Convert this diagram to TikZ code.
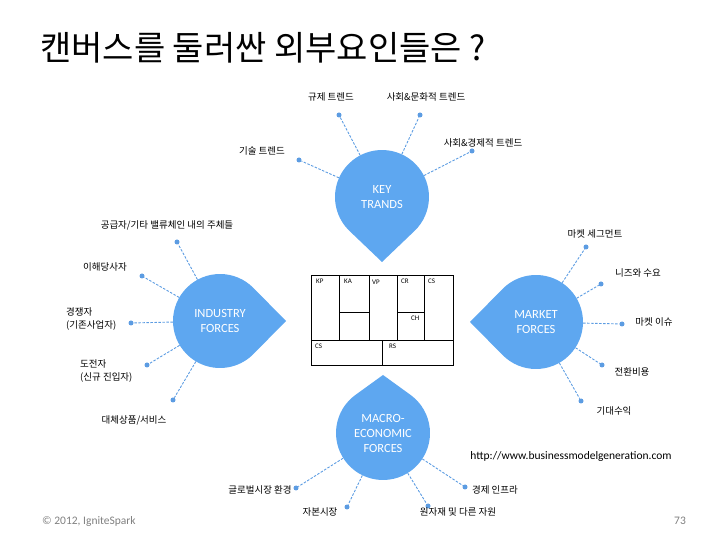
\documentclass[tikz,border=0pt]{standalone}
\usepackage{fontspec}
\setmainfont{Carlito}
\newfontfamily\kofont{Noto Sans CJK KR}
\usetikzlibrary{calc}
\definecolor{dropblue}{RGB}{94,167,240}
\definecolor{spokeblue}{RGB}{92,156,226}
\definecolor{footgray}{RGB}{128,128,128}

% teardrop: centre, radius, tip angle, tip distance
\newcommand{\teardrop}[4]{%
  \pgfmathsetmacro\dropa{acos(#2/#4)}%
  \fill[dropblue] (#1) ++(#3:#4) -- ($(#1)+(#3+\dropa:#2)$) arc[start angle=#3+\dropa, end angle=#3+360-\dropa, radius=#2] -- cycle;%
}

\begin{document}
\begin{tikzpicture}[x=1pt, y=1pt,
  drop/.style={circle, minimum size=94pt, inner sep=0pt, text=white, align=center, font=\fontsize{12.5}{15}\selectfont},
  dot/.style={circle, fill=spokeblue, inner sep=0pt, minimum size=5pt},
  spoke/.style={spokeblue, dash pattern=on 2.5pt off 1.5pt, line width=0.9pt},
  lbl/.style={font=\kofont\fontsize{9.5}{13.5}\selectfont, inner sep=0pt},
  cell/.style={font=\fontsize{7}{8}\selectfont, inner sep=0pt, anchor=north west},
  foot/.style={font=\fontsize{11.5}{13}\selectfont, text=footgray, inner sep=0pt}]
\useasboundingbox (0,0) rectangle (728,546);

\node[anchor=west, inner sep=0pt, font=\kofont\fontsize{34}{34}\selectfont] (title) at (40,498) {캔버스를 둘러싼 외부요인들은 ?};

% the four drops
\coordinate (kc) at (382,349);
\coordinate (ic) at (220,225);
\coordinate (mc) at (536,224);
\coordinate (ec) at (383,113);
\teardrop{kc}{47}{270}{65}
\teardrop{ic}{47}{0}{66}
\teardrop{mc}{47}{180}{66}
\teardrop{ec}{47}{90}{58}
\node[drop] (key) at (kc) {KEY\\TRANDS};
\node[drop] (industry) at (ic) {INDUSTRY\\FORCES};
\node[drop] (market) at (mc) {MARKET\\FORCES};
\node[drop] (macro) at (ec) {MACRO-\\ECONOMIC\\FORCES};

% key trends
\node[dot] (k1) at (299,386) {};
\node[dot] (k2) at (339,431) {};
\node[dot] (k3) at (420,431) {};
\node[dot] (k4) at (472,395) {};
\node[lbl] (k1t) at (262,395) {기술 트렌드};
\node[lbl] (k2t) at (331,449) {규제 트렌드};
\node[lbl] (k3t) at (426,449) {사회\&문화적 트렌드};
\node[lbl] (k4t) at (483,403) {사회\&경제적 트렌드};
\draw[spoke] (key) -- (k1);
\draw[spoke] (key) -- (k2);
\draw[spoke] (key) -- (k3);
\draw[spoke] (key) -- (k4);

% industry forces
\node[dot] (i1) at (177,304) {};
\node[dot] (i2) at (142,270) {};
\node[dot] (i3) at (131,223) {};
\node[dot] (i4) at (147,181) {};
\node[dot] (i5) at (173,146) {};
\node[lbl] (i1t) at (167,321) {공급자/기타 밸류체인 내의 주체들};
\node[lbl] (i2t) at (105,279) {이해당사자};
\node[lbl, anchor=west, align=left] (i3t) at (66,227) {경쟁자\\(기존사업자)};
\node[lbl, anchor=west, align=left] (i4t) at (80,175) {도전자\\(신규 진입자)};
\node[lbl] (i5t) at (134,126) {대체상품/서비스};
\draw[spoke] (industry) -- (i1);
\draw[spoke] (industry) -- (i2);
\draw[spoke] (industry) -- (i3);
\draw[spoke] (industry) -- (i4);
\draw[spoke] (industry) -- (i5);

% market forces
\node[dot] (m1) at (586,299) {};
\node[dot] (m2) at (601,262) {};
\node[dot] (m3) at (622,222) {};
\node[dot] (m4) at (602,181) {};
\node[dot] (m5) at (581,145) {};
\node[lbl] (m1t) at (595,312) {마켓 세그먼트};
\node[lbl] (m2t) at (638,273) {니즈와 수요};
\node[lbl] (m3t) at (654,224) {마켓 이슈};
\node[lbl] (m4t) at (632,174) {전환비용};
\node[lbl] (m5t) at (614,135) {기대수익};
\draw[spoke] (market) -- (m1);
\draw[spoke] (market) -- (m2);
\draw[spoke] (market) -- (m3);
\draw[spoke] (market) -- (m4);
\draw[spoke] (market) -- (m5);

% macro-economic forces
\node[dot] (e1) at (296,58) {};
\node[dot] (e2) at (347,39) {};
\node[dot] (e3) at (428,40) {};
\node[dot] (e4) at (465,59) {};
\node[lbl] (e1t) at (260,56) {글로벌시장 환경};
\node[lbl] (e2t) at (320,34) {자본시장};
\node[lbl] (e3t) at (458,34) {원자재 및 다른 자원};
\node[lbl] (e4t) at (495,56) {경제 인프라};
\draw[spoke] (macro) -- (e1);
\draw[spoke] (macro) -- (e2);
\draw[spoke] (macro) -- (e3);
\draw[spoke] (macro) -- (e4);

% canvas in the middle
\draw[line width=0.8pt] (311,181) rectangle (453,271);
\draw[line width=0.8pt] (311,206) -- (453,206);
\draw[line width=0.8pt] (339,206) -- (339,271);
\draw[line width=0.8pt] (369,206) -- (369,271);
\draw[line width=0.8pt] (397,206) -- (397,271);
\draw[line width=0.8pt] (424,206) -- (424,271);
\draw[line width=0.8pt] (339,234) -- (369,234);
\draw[line width=0.8pt] (397,234) -- (424,234);
\draw[line width=0.8pt] (382,181) -- (382,206);
\node[cell] (kp) at (316,267) {KP};
\node[cell] (ka) at (344,267) {KA};
\node[cell] (vp) at (372,266) {VP};
\node[cell] (cr) at (401,267) {CR};
\node[cell] (cs) at (428,267) {CS};
\node[cell] (ch) at (411,230) {CH};
\node[cell] (c$) at (315,202) {CS};
\node[cell] (rs) at (389,202) {RS};

\node[font=\fontsize{11.5}{13}\selectfont, inner sep=0pt] (url) at (571,90) {http://www.businessmodelgeneration.com};
\node[foot, anchor=west] (copy) at (42,25) {© 2012, IgniteSpark};
\node[foot] (page) at (680,25) {73};
\end{tikzpicture}
\end{document}
